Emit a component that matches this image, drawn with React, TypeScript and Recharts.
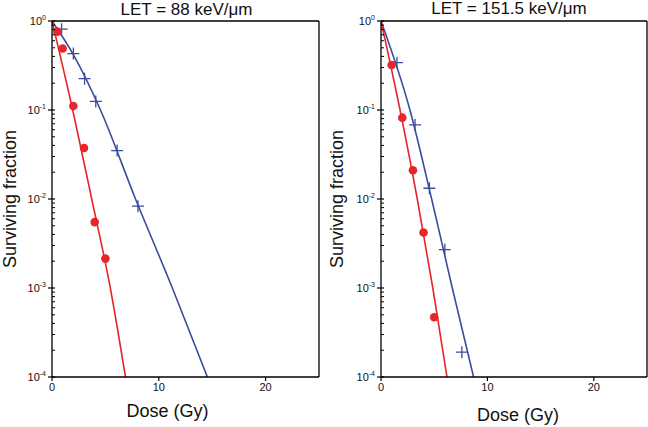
import { ComposedChart, Line, Scatter, XAxis, YAxis, ReferenceLine } from "recharts";

const FONT = "'Liberation Sans', Arial, sans-serif";
const RED = "#e5262b";
const BLUE = "#3b4c9e";

// LET = 88 keV/um
const lowRedDose = [0.5, 1, 2, 3, 4, 5];
const lowRedSurv = [0.76, 0.49, 0.111, 0.0374, 0.0055, 0.00214];
const lowBlueDose = [0.9, 2, 3.05, 4.1, 6.1, 8.05];
const lowBlueSurv = [0.81, 0.43, 0.225, 0.125, 0.035, 0.0083];
const lowRedFitDose = [0, 1.94, 3.72, 5.46, 6.88];
const lowRedFitSurv = [1, 0.1, 0.01, 0.001, 0.0001];
const lowBlueFitDose = [0, 2, 4.54, 7.82, 11.27, 14.55];
const lowBlueFitSurv = [1, 0.42, 0.1, 0.01, 0.001, 0.0001];

// LET = 151.5 keV/um
const highRedDose = [1, 2, 3, 4, 5];
const highRedSurv = [0.32, 0.082, 0.021, 0.0042, 0.00047];
const highBlueDose = [1.5, 3.2, 4.55, 6, 7.6];
const highBlueSurv = [0.34, 0.068, 0.0132, 0.0027, 0.00019];
const highRedFitDose = [0, 1.79, 3.41, 4.87, 6.2];
const highRedFitSurv = [1, 0.1, 0.01, 0.001, 0.0001];
const highBlueFitDose = [0, 2.72, 4.76, 6.7, 8.7];
const highBlueFitSurv = [1, 0.1, 0.01, 0.001, 0.0001];

const xTicks = [0, 10, 20];
const yMajor = [1e-4, 1e-3, 1e-2, 1e-1, 1];
const minorSteps = [2, 3, 4, 5, 6, 7, 8, 9];
const yTicks = [
  ...yMajor,
  ...yMajor.slice(0, 4).flatMap((d) => minorSteps.map((m) => d * m)),
].sort((a, b) => a - b);

const zip = (dose: number[], surv: number[]) => dose.map((d, i) => ({ dose: d, surv: surv[i] }));

function YTick(props: any) {
  const { x, y, payload } = props;
  const v = payload.value as number;
  const exp = Math.round(Math.log10(v));
  const major = Math.abs(v / Math.pow(10, exp) - 1) < 1e-6;
  if (!major) {
    return <line x1={x} x2={x + 3} y1={y} y2={y} stroke="#000" strokeWidth={1} />;
  }
  return (
    <g>
      <line x1={x - 4} x2={x + 3} y1={y} y2={y} stroke="#000" strokeWidth={1.2} />
      <text x={x - 6} y={y + 4} textAnchor="end" fontSize={11} fontFamily={FONT} fill="#111">
        10<tspan dy={-5} fontSize={7}>{String(exp)}</tspan>
      </text>
    </g>
  );
}

const circle = (p: any) => <circle cx={p.cx} cy={p.cy} r={4.3} fill={RED} />;
const cross = (p: any) => (
  <path
    d={`M${p.cx - 6},${p.cy}H${p.cx + 6}M${p.cx},${p.cy - 6}V${p.cy + 6}`}
    stroke={BLUE}
    strokeWidth={1.3}
    fill="none"
  />
);

type PanelProps = {
  width: number;
  axisWidth: number;
  title: string;
  titleDx: number;
  titleY: number;
  yLabelX: number;
  xLabelDx: number;
  xLabelY: number;
  red: { dose: number; surv: number }[];
  blue: { dose: number; surv: number }[];
  redFit: { dose: number; surv: number }[];
  blueFit: { dose: number; surv: number }[];
};

function Panel(p: PanelProps) {
  return (
    <ComposedChart width={p.width} height={427} margin={{ top: 21, right: 1, bottom: 0, left: 0 }}>
      <XAxis
        type="number"
        dataKey="dose"
        domain={[0, 25]}
        ticks={xTicks}
        allowDataOverflow
        height={50}
        tickSize={4}
        axisLine={{ stroke: "#000", strokeWidth: 1.3 }}
        tickLine={{ stroke: "#000", strokeWidth: 1.2 }}
        tick={{ fontSize: 11, fontFamily: FONT, fill: "#111" }}
        label={{
          content: (lp: any) => {
            const vb = lp.viewBox;
            return (
              <text
                x={vb.x + vb.width / 2 + p.xLabelDx}
                y={p.xLabelY}
                textAnchor="middle"
                fontSize={18}
                fontFamily={FONT}
                fill="#111"
              >
                Dose (Gy)
              </text>
            );
          },
        }}
      />
      <YAxis
        type="number"
        dataKey="surv"
        scale="log"
        domain={[1e-4, 1]}
        allowDataOverflow
        ticks={yTicks}
        interval={0}
        width={p.axisWidth}
        tickSize={0}
        tickMargin={0}
        tickLine={false}
        axisLine={{ stroke: "#000", strokeWidth: 1.3 }}
        tick={(tp: any) => <YTick {...tp} />}
        label={{
          content: (lp: any) => {
            const vb = lp.viewBox;
            const cy = vb.y + vb.height / 2;
            return (
              <text
                x={p.yLabelX}
                y={cy}
                transform={`rotate(-90 ${p.yLabelX} ${cy})`}
                textAnchor="middle"
                dominantBaseline="central"
                fontSize={18}
                fontFamily={FONT}
                fill="#111"
              >
                Surviving fraction
              </text>
            );
          },
        }}
      />
      <ReferenceLine
        y={1}
        stroke="#000"
        strokeWidth={1.3}
        label={{
          content: (lp: any) => {
            const vb = lp.viewBox;
            return (
              <text
                x={vb.x + vb.width / 2 + p.titleDx}
                y={p.titleY}
                textAnchor="middle"
                fontSize={17}
                fontFamily={FONT}
                fill="#111"
              >
                {p.title}
              </text>
            );
          },
        }}
      />
      <ReferenceLine x={25} stroke="#000" strokeWidth={1.3} />
      <Line data={p.blueFit} dataKey="surv" type="monotone" stroke={BLUE} strokeWidth={1.6} dot={false} isAnimationActive={false} />
      <Line data={p.redFit} dataKey="surv" type="monotone" stroke={RED} strokeWidth={1.6} dot={false} isAnimationActive={false} />
      <Scatter data={p.blue} dataKey="surv" shape={cross} isAnimationActive={false} />
      <Scatter data={p.red} dataKey="surv" shape={circle} isAnimationActive={false} />
    </ComposedChart>
  );
}

export default function App() {
  return (
    <div style={{ position: "absolute", left: 0, top: 0, width: 648, height: 427, display: "flex", background: "#fff" }}>
      <Panel
        width={320}
        axisWidth={52}
        title="LET = 88 keV/μm"
        titleDx={1}
        titleY={15}
        yLabelX={10}
        xLabelDx={-18}
        xLabelY={417}
        red={zip(lowRedDose, lowRedSurv)}
        blue={zip(lowBlueDose, lowBlueSurv)}
        redFit={zip(lowRedFitDose, lowRedFitSurv)}
        blueFit={zip(lowBlueFitDose, lowBlueFitSurv)}
      />
      <Panel
        width={328}
        axisWidth={61}
        title="LET = 151.5 keV/μm"
        titleDx={-5}
        titleY={14}
        yLabelX={17}
        xLabelDx={4}
        xLabelY={421}
        red={zip(highRedDose, highRedSurv)}
        blue={zip(highBlueDose, highBlueSurv)}
        redFit={zip(highRedFitDose, highRedFitSurv)}
        blueFit={zip(highBlueFitDose, highBlueFitSurv)}
      />
    </div>
  );
}
